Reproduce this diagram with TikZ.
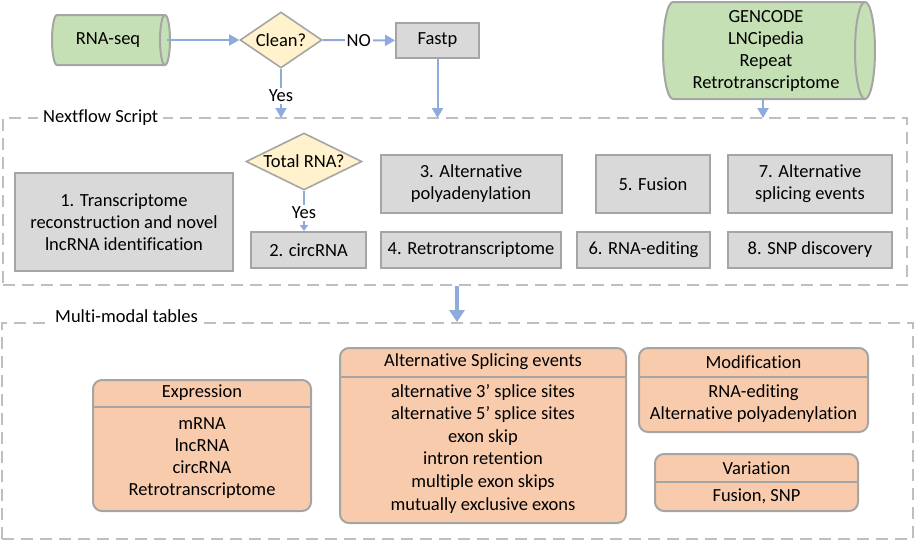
\documentclass[tikz,border=0pt]{standalone}
\usepackage{fontspec}
\setmainfont{Carlito}[Ligatures={NoCommon,NoRare,NoDiscretionary}]
\usetikzlibrary{shapes.geometric,arrows.meta}
\definecolor{bord}{HTML}{A5A5A5}
\definecolor{dashc}{HTML}{BFBFBF}
\definecolor{greenf}{HTML}{C5E0B4}
\definecolor{decf}{HTML}{FFF2CC}
\definecolor{procf}{HTML}{D9D9D9}
\definecolor{orangef}{HTML}{F8CBAD}
\definecolor{arrc}{HTML}{8FAADC}
\newcommand\cylpath[5]{%
  \filldraw[cylshape] ({#1+#5},#2) arc[start angle=270,end angle=90,x radius=#5,y radius={(#4-#2)/2}] -- ({#3-#5},#4) arc[start angle=90,end angle=-90,x radius=#5,y radius={(#4-#2)/2}] -- cycle;
  \draw[cylshape,fill=none] ({#3-#5},#2) arc[start angle=270,end angle=90,x radius=#5,y radius={(#4-#2)/2}];}
\begin{document}
\begin{tikzpicture}[x=1pt,y=-1pt,
  every node/.style={font=\fontsize{18.5}{22}\selectfont, align=center, inner sep=0pt},
  cylshape/.style={draw=bord, fill=greenf, line width=2pt},
  proc/.style={draw=bord, fill=procf, line width=2pt, rectangle},
  dec/.style={diamond, draw=bord, fill=decf, line width=1.6pt},
  dashbox/.style={draw=dashc, line width=2pt, dash pattern=on 12pt off 7pt, rectangle},
  tbl/.style={draw=bord, fill=orangef, line width=2pt, rounded corners=9pt, rectangle},
  tblline/.style={draw=bord, line width=2pt},
  arr/.style={draw=arrc, line width=2pt, -{Triangle[length=10pt,width=11pt]}},
  thinarr/.style={draw=arrc, line width=2pt, -{Triangle[length=6pt,width=8pt]}},
  bigarr/.style={draw=arrc, line width=4.5pt, -{Triangle[length=12pt,width=15pt]}},
  lbl/.style={fill=white, inner sep=2pt},
  grp/.style={fill=white, inner xsep=5pt, inner ysep=2pt, anchor=west}]
\useasboundingbox (0,0) rectangle (915,541);

% dashed containers
\node[dashbox, minimum width=904, minimum height=167] (nf) at (455,201.5) {};
\node[dashbox, minimum width=911, minimum height=216] (mm) at (457.5,431) {};
\node[grp] (nflbl) at (38,118) {Nextflow Script};
\node[grp] (mmlbl) at (50,316) {Multi-modal tables};

% top row
\cylpath{52}{15}{170}{65}{5}
\node (rnaseq) at (108,40) [minimum width=118, minimum height=50] {RNA-seq};
\node[dec, aspect=1.46, minimum width=82, minimum height=56] (clean) at (281,40) {Clean?};
\node[proc, minimum width=83, minimum height=35] (fastp) at (437.5,40.5) {Fastp};
\cylpath{663}{2}{875}{99}{10}
\node (gencode) at (766,50.5) [minimum width=212, minimum height=97] {GENCODE\\LNCipedia\\Repeat\\Retrotranscriptome};

\coordinate (yesin) at (281,118);
\coordinate (fastpin) at (437.5,118);
\coordinate (gcin) at (763,118);
\draw[arr] (rnaseq) -- (clean);
\draw[arr] (clean) -- node[lbl, midway] (nolbl) {NO} (fastp);
\draw[arr] (clean.south) -- node[lbl, pos=0.55] (yeslbl) {Yes} (yesin);
\draw[arr] (fastp.south) -- (fastpin);
\draw[arr] (gencode.south -| gcin) -- (gcin);

% nextflow contents
\node[dec, aspect=2, minimum width=116, minimum height=57] (total) at (304,161.5) {Total RNA?};
\node[proc, minimum width=218, minimum height=98] (p1) at (124,222) {1. Transcriptome\\reconstruction and novel\\lncRNA identification};
\node[proc, minimum width=115, minimum height=36] (p2) at (308.5,250) {2. circRNA};
\node[proc, minimum width=181, minimum height=58] (p3) at (471,184) {3. Alternative\\polyadenylation};
\node[proc, minimum width=180, minimum height=36] (p4) at (471,250) {4. Retrotranscriptome};
\node[proc, minimum width=114, minimum height=58] (p5) at (653,184) {5. Fusion};
\node[proc, minimum width=133, minimum height=36] (p6) at (643.5,250) {6. RNA-editing};
\node[proc, minimum width=164, minimum height=58] (p7) at (810,184) {7. Alternative\\splicing events};
\node[proc, minimum width=164, minimum height=36] (p8) at (810,250) {8. SNP discovery};
\draw[thinarr] (total.south) -- node[lbl, pos=0.55] (yes2) {Yes} (total.south |- p2.north);

% big arrow
\coordinate (bigx) at (457,300);
\draw[bigarr] (nf.south -| bigx) -- (mm.north -| bigx);

% tables
\node[tbl, minimum width=218, minimum height=131] (expr) at (202,445.5) {};
\draw[tblline] (93,407) -- (311,407);
\node (exprT) at (202,393) {Expression};
\node (exprB) at (202,458.5) {mRNA\\lncRNA\\circRNA\\Retrotranscriptome};

\node[tbl, minimum width=286, minimum height=175] (spl) at (483,435.5) {};
\draw[tblline] (340,377) -- (626,377);
\node (splT) at (483,362) {Alternative Splicing events};
\node[font=\fontsize{18.5}{22.6}\selectfont] (splB) at (483,448.5) {alternative 3’ splice sites\\alternative 5’ splice sites\\exon skip\\intron retention\\multiple exon skips\\mutually exclusive exons};

\node[tbl, minimum width=229, minimum height=84] (mod) at (753.5,390) {};
\draw[tblline] (639,377) -- (868,377);
\node (modT) at (753.5,362) {Modification};
\node (modB) at (753.5,403.5) {RNA-editing\\Alternative polyadenylation};

\node[tbl, minimum width=203, minimum height=57] (var) at (756.5,482.5) {};
\draw[tblline] (655,482) -- (858,482);
\node (varT) at (756.5,468) {Variation};
\node (varB) at (756.5,496.5) {Fusion, SNP};
\end{tikzpicture}
\end{document}
